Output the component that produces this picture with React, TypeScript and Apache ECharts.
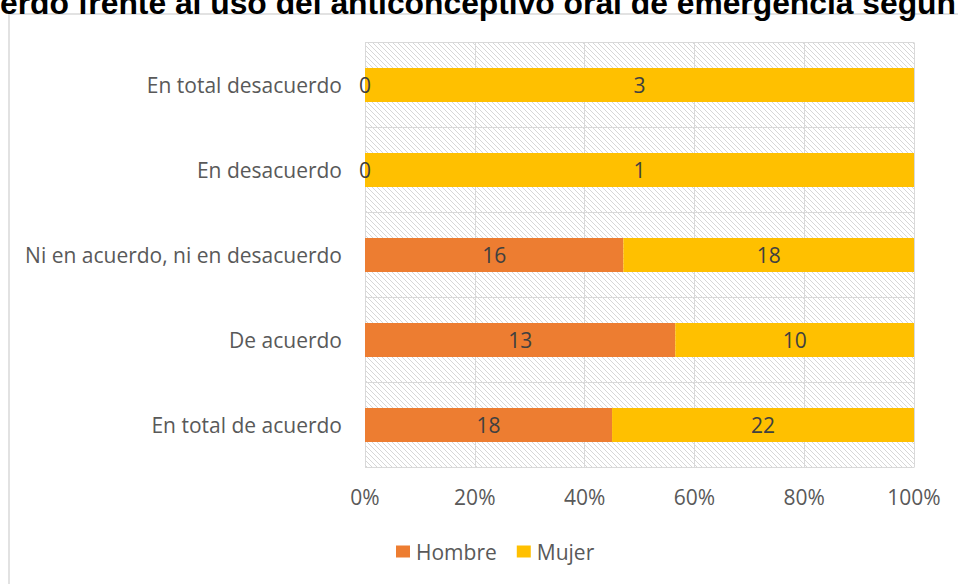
import React, { useEffect, useRef } from "react";
import * as echarts from "echarts";

const categories = [
  "En total de acuerdo",
  "De acuerdo",
  "Ni en acuerdo, ni en desacuerdo",
  "En desacuerdo",
  "En total desacuerdo",
];
const hombre = [18, 13, 16, 0, 0];
const mujer = [22, 10, 18, 1, 3];
const xTicks = [0, 20, 40, 60, 80, 100];
const titleText = "erdo frente al uso del anticonceptivo oral de emergencia según";

const FONT = "'Open Sans', sans-serif";
const FS = 21;

const hatchSvg =
  "data:image/svg+xml;charset=utf-8," +
  encodeURIComponent(
    '<svg xmlns="http://www.w3.org/2000/svg" width="5" height="5"><path d="M0,0 L5,5 M-1,4 L1,6 M4,-1 L6,1" stroke="#d2d2d2" stroke-width="0.9" fill="none"/></svg>'
  );

export default function App() {
  const ref = useRef<HTMLDivElement>(null);
  useEffect(() => {
    if (!ref.current) return;
    const chart = echarts.init(ref.current, undefined, { renderer: "svg" });
    const totals = categories.map((_, i) => hombre[i] + mujer[i]);
    const pct = (arr: number[]) =>
      arr.map((v, i) => ({ value: (v / totals[i]) * 100, raw: v }));
    const label = {
      show: true,
      position: "inside" as const,
      color: "#404040",
      fontSize: FS,
      fontFamily: FONT,
      formatter: (p: any) => String(p.data.raw),
    };
    chart.setOption({
      animation: false,
      backgroundColor: "#ffffff",
      grid: {
        left: 365,
        right: 44,
        top: 42.5,
        bottom: 116.5,
        show: true,
        backgroundColor: { image: hatchSvg, repeat: "repeat" } as any,
        borderWidth: 0,
      },
      graphic: [
        {
          type: "rect",
          shape: { x: 9, y: 14, width: 1200, height: 1200 },
          style: { fill: "none", stroke: "#d9d9d9", lineWidth: 1.5 },
          z: -10,
        },
        {
          type: "text",
          x: 0,
          y: -13,
          style: {
            text: titleText,
            fill: "#000000",
            font: "bold 31.8px 'Liberation Sans', Arial, sans-serif",
            textVerticalAlign: "top",
            textAlign: "left",
          },
        },
      ],
      legend: {
        left: 391,
        top: 536,
        itemWidth: 14,
        itemHeight: 12,
        itemGap: 20,
        icon: "rect",
        textStyle: {
          color: "#595959",
          fontSize: FS,
          fontFamily: FONT,
          padding: [0, 0, 0, 1],
        },
        data: ["Hombre", "Mujer"],
      },
      xAxis: {
        type: "value",
        min: 0,
        max: 100,
        interval: 20,
        axisLine: { show: false },
        axisTick: { show: false },
        splitLine: { show: true, lineStyle: { color: "#d9d9d9", width: 1 } },
        axisLabel: {
          color: "#595959",
          fontSize: FS,
          fontFamily: FONT,
          margin: 19,
          formatter: (v: number) => (xTicks.includes(v) ? v + "%" : ""),
        },
      },
      yAxis: {
        type: "category",
        data: categories,
        axisLine: { show: false },
        axisTick: { show: false },
        splitLine: { show: true, lineStyle: { color: "#d9d9d9", width: 1 } },
        axisLabel: {
          color: "#595959",
          fontSize: FS,
          fontFamily: FONT,
          margin: 23,
        },
      },
      series: [
        {
          name: "Hombre",
          type: "bar",
          stack: "s",
          barWidth: "40%",
          itemStyle: { color: "#ED7D31" },
          label,
          data: pct(hombre),
        },
        {
          name: "Mujer",
          type: "bar",
          stack: "s",
          barWidth: "40%",
          itemStyle: { color: "#FFC000" },
          label,
          data: pct(mujer),
        },
      ],
    });
    return () => chart.dispose();
  }, []);
  return (
    <div
      ref={ref}
      style={{ position: "fixed", left: 0, top: 0, width: 958, height: 584 }}
    />
  );
}
